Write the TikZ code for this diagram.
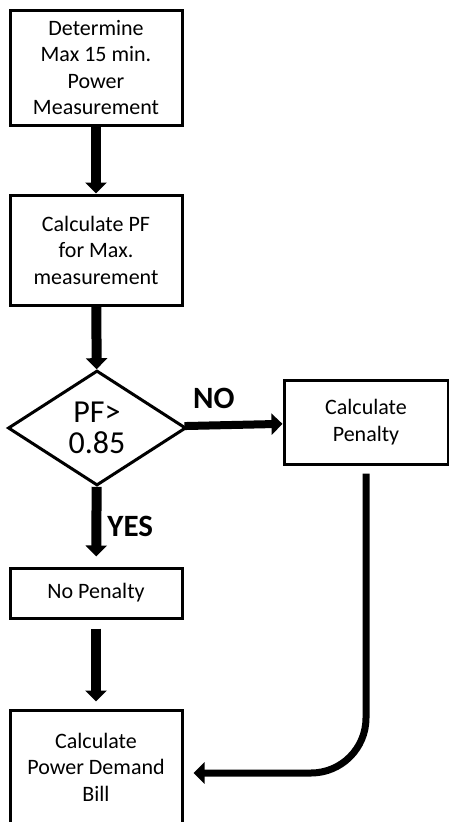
\documentclass[tikz,border=0pt]{standalone}
\usepackage{fontspec}
\setmainfont{Carlito}
\usepackage{tikz}
\usetikzlibrary{shapes.geometric,arrows.meta}

\begin{document}
\begin{tikzpicture}[x=1pt, y=-1pt,
    box/.style={draw, line width=3pt, align=center, inner sep=0pt,
        font=\fontsize{22}{26.5}\selectfont},
    flow/.style={-{Triangle[width=21pt,length=11pt]}, line width=10pt},
    lbl/.style={font=\fontsize{31}{31}\selectfont\bfseries, inner sep=1pt}]
    \useasboundingbox (0,0) rectangle (448,822);
    \node[box, minimum width=172pt, minimum height=115pt] (det) at (96,67.5) {Determine\\Max 15 min.\\Power\\Measurement};
    \node[box, minimum width=172pt, minimum height=110pt] (calc) at (96,250) {Calculate PF\\for Max.\\measurement};
    \node[draw, diamond, line width=3pt, inner sep=0pt, align=center, minimum width=178pt, minimum height=115pt,
        font=\fontsize{32}{31}\selectfont] (dec) at (97,428) {PF>\\0.85};
    \node[box, minimum width=164pt, minimum height=84pt] (pen) at (366,422) {Calculate\\Penalty};
    \node[box, minimum width=172pt, minimum height=50pt] (nopen) at (96,593) {No Penalty};
    \node[box, minimum width=172pt, minimum height=126pt, text depth=12pt] (bill) at (96,773) {Calculate\\Power Demand\\Bill};
    % arrows
    \draw[flow] (det) -- (calc);
    \draw[flow] (calc) -- (dec);
    \draw[flow, shorten >=10pt] (dec) -- (nopen) node[lbl, midway, right, xshift=5pt] (yes) {YES};
    \draw[flow, line width=8pt] (dec) -- (pen) node[lbl, pos=0.3, above, yshift=12pt] (no) {NO};
    \draw[flow, shorten <=9pt, shorten >=7pt] (nopen) -- (bill);
    \draw[flow, line width=7pt, rounded corners=55pt, shorten <=8pt, shorten >=10pt] (pen.south) |- (bill.east);
\end{tikzpicture}
\end{document}
